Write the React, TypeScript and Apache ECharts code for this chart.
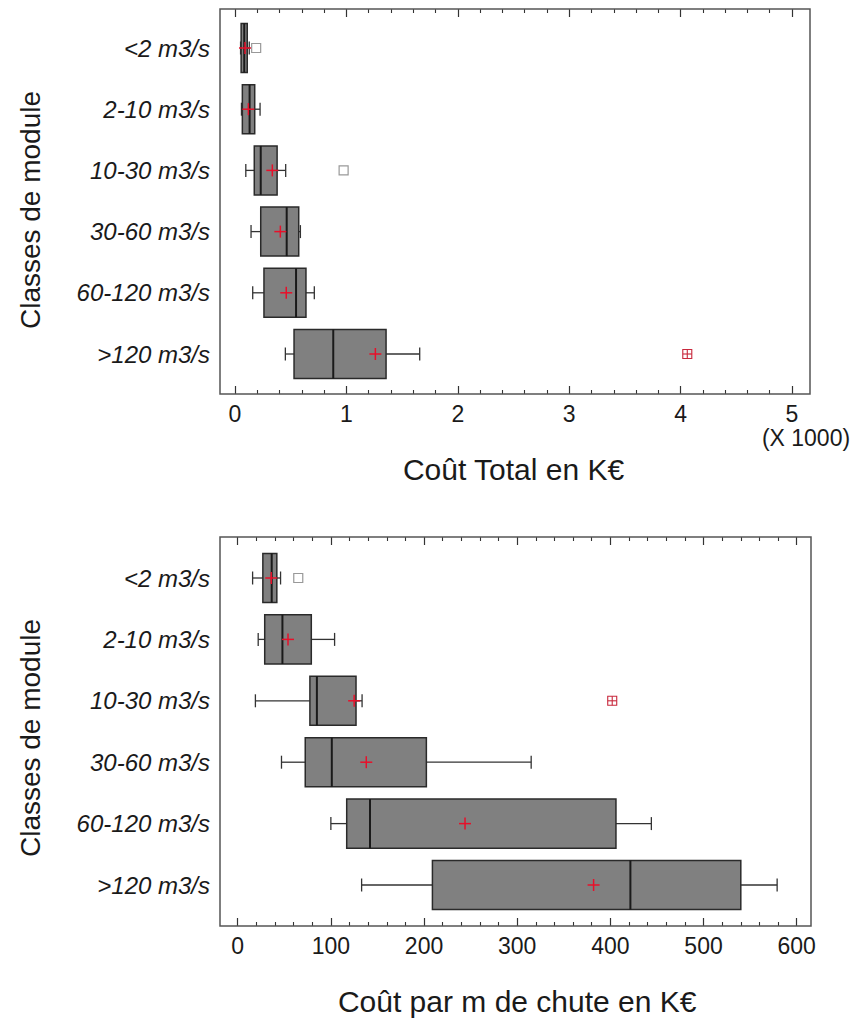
import React, { useEffect, useRef } from 'react';
import * as echarts from 'echarts';

const categories = ['<2 m3/s', '2-10 m3/s', '10-30 m3/s', '30-60 m3/s', '60-120 m3/s', '>120 m3/s'];

// Chart 1: Coût Total en K€ (x 1000)
const totalLow = [0.05, 0.058, 0.097, 0.144, 0.159, 0.452];
const totalQ1 = [0.055, 0.066, 0.173, 0.231, 0.26, 0.53];
const totalMedian = [0.083, 0.131, 0.231, 0.464, 0.548, 0.882];
const totalQ3 = [0.11, 0.177, 0.378, 0.572, 0.637, 1.356];
const totalHigh = [0.128, 0.225, 0.455, 0.587, 0.712, 1.658];
const totalMean = [0.09, 0.12, 0.335, 0.407, 0.46, 1.26];
const totalOutliers = [[0, 0.19], [2, 0.975]];
const totalFarOutliers = [[5, 4.06]];
const totalTicks = { min: 0, max: 5, interval: 1 };

// Chart 2: Coût par m de chute en K€
const chuteLow = [16, 22, 19, 47, 100, 133];
const chuteQ1 = [27, 29, 77.5, 72.5, 117, 209];
const chuteMedian = [36.5, 48, 85, 101, 142, 421.5];
const chuteQ3 = [42, 79, 127, 202.5, 406, 540];
const chuteHigh = [46, 104, 133.5, 315, 444, 579];
const chuteMean = [36, 54, 125, 138, 244, 382];
const chuteOutliers = [[0, 65]];
const chuteFarOutliers = [[2, 402]];
const chuteTicks = { min: 0, max: 600, interval: 100 };

const FONT = '"Liberation Sans", Arial, sans-serif';
const TXT = '#1a1a1a';

function boxData(lo: number[], q1: number[], md: number[], q3: number[], hi: number[]) {
  return categories.map((_, i) => [i, lo[i], q1[i], md[i], q3[i], hi[i]]);
}

const renderBox = (params: any, api: any) => {
  const c = api.value(0);
  const y = api.coord([0, c])[1];
  const band = api.size([0, 1])[1];
  const h = band * 0.8;
  const X = (v: number) => api.coord([v, c])[0];
  const lo = X(api.value(1)), q1 = X(api.value(2)), md = X(api.value(3)), q3 = X(api.value(4)), hi = X(api.value(5));
  const cap = 6.5;
  const ws = { stroke: '#333', lineWidth: 1.3 };
  return {
    type: 'group',
    children: [
      { type: 'line', shape: { x1: lo, y1: y, x2: q1, y2: y }, style: ws },
      { type: 'line', shape: { x1: q3, y1: y, x2: hi, y2: y }, style: ws },
      { type: 'line', shape: { x1: lo, y1: y - cap, x2: lo, y2: y + cap }, style: ws },
      { type: 'line', shape: { x1: hi, y1: y - cap, x2: hi, y2: y + cap }, style: ws },
      { type: 'rect', shape: { x: q1, y: y - h / 2, width: q3 - q1, height: h }, style: { fill: '#808080', stroke: '#2a2a2a', lineWidth: 1.5 } },
      { type: 'line', shape: { x1: md, y1: y - h / 2, x2: md, y2: y + h / 2 }, style: { stroke: '#1a1a1a', lineWidth: 2 } },
    ],
  };
};

const renderMean = (params: any, api: any) => {
  const p = api.coord([api.value(1), api.value(0)]);
  const a = 6;
  const st = { stroke: '#e8102a', lineWidth: 1.5 };
  return {
    type: 'group',
    children: [
      { type: 'line', shape: { x1: p[0] - a, y1: p[1], x2: p[0] + a, y2: p[1] }, style: st },
      { type: 'line', shape: { x1: p[0], y1: p[1] - a, x2: p[0], y2: p[1] + a }, style: st },
    ],
  };
};

const renderOutlier = (params: any, api: any) => {
  const p = api.coord([api.value(1), api.value(0)]);
  const s = 4.5;
  return { type: 'rect', shape: { x: p[0] - s, y: p[1] - s, width: 2 * s, height: 2 * s }, style: { fill: '#fff', stroke: '#999', lineWidth: 1.2 } };
};

const renderFar = (params: any, api: any) => {
  const p = api.coord([api.value(1), api.value(0)]);
  const s = 4.5;
  const st = { stroke: '#c8283c', lineWidth: 1.1 };
  return {
    type: 'group',
    children: [
      { type: 'rect', shape: { x: p[0] - s, y: p[1] - s, width: 2 * s, height: 2 * s }, style: { fill: '#fff', stroke: '#c8283c', lineWidth: 1.1 } },
      { type: 'line', shape: { x1: p[0] - s, y1: p[1], x2: p[0] + s, y2: p[1] }, style: st },
      { type: 'line', shape: { x1: p[0], y1: p[1] - s, x2: p[0], y2: p[1] + s }, style: st },
    ],
  };
};

function xAxisPair(gridIndex: number, ticks: any, name: string, offBottom: number, offTop: number) {
  const common = {
    type: 'value',
    gridIndex,
    min: ticks.min,
    max: ticks.max,
    interval: ticks.interval,
    splitLine: { show: false },
    axisLine: { show: false },
    axisTick: { show: true, inside: true, length: 8, lineStyle: { color: '#333', width: 1.2 } },
    minorTick: { show: true, splitNumber: 5, length: 4, lineStyle: { color: '#333', width: 1.1 } },
  };
  return [
    {
      ...common,
      position: 'bottom',
      offset: offBottom,
      axisLabel: { show: true, margin: 8, fontSize: 23, color: TXT, fontFamily: FONT },
      name,
      nameLocation: 'middle',
      nameGap: 60,
      nameTextStyle: { fontSize: 30, color: TXT, fontFamily: FONT },
    },
    {
      ...common,
      position: 'top',
      offset: offTop,
      axisLabel: { show: false },
    },
  ];
}

function yAxis(gridIndex: number, margin: number) {
  return {
    type: 'category',
    gridIndex,
    data: categories,
    inverse: true,
    axisLine: { show: false },
    axisTick: { show: false },
    splitLine: { show: false },
    axisLabel: { margin, fontSize: 24, fontStyle: 'italic', color: TXT, fontFamily: FONT },
  };
}

export default function App() {
  const ref = useRef<HTMLDivElement>(null);
  useEffect(() => {
    document.body.style.margin = '0';
    const chart = echarts.init(ref.current!, null, { renderer: 'svg' });
    const g1 = { left: 235, top: 17.4, width: 557, height: 367.2 };
    const g2 = { left: 237.7, top: 547.3, width: 559, height: 368.4 };
    chart.setOption({
      animation: false,
      backgroundColor: '#fff',
      grid: [g1, g2],
      xAxis: [
        ...xAxisPair(0, totalTicks, 'Coût Total en K€', 394 - (g1.top + g1.height), g1.top - 9),
        ...xAxisPair(1, chuteTicks, 'Coût par m de chute en K€', 926 - (g2.top + g2.height), g2.top - 537),
      ],
      yAxis: [yAxis(0, 25), yAxis(1, 27.7)],
      graphic: [
        { type: 'rect', shape: { x: 220, y: 9, width: 590, height: 385 }, style: { fill: 'none', stroke: '#555', lineWidth: 1.5 }, silent: true, z: 10 },
        { type: 'rect', shape: { x: 220, y: 537, width: 591, height: 389 }, style: { fill: 'none', stroke: '#555', lineWidth: 1.5 }, silent: true, z: 10 },
        { type: 'text', x: 806, y: 438, style: { text: '(X 1000)', fontSize: 23, fill: TXT, fontFamily: FONT, align: 'center', verticalAlign: 'middle' } },
        { type: 'text', x: 30, y: 210, rotation: Math.PI / 2, style: { text: 'Classes de module', fontSize: 28, fill: TXT, fontFamily: FONT, align: 'center', verticalAlign: 'middle' } },
        { type: 'text', x: 30, y: 738, rotation: Math.PI / 2, style: { text: 'Classes de module', fontSize: 28, fill: TXT, fontFamily: FONT, align: 'center', verticalAlign: 'middle' } },
      ],
      series: [
        { type: 'custom', xAxisIndex: 0, yAxisIndex: 0, renderItem: renderBox, encode: { x: [1, 2, 3, 4, 5], y: 0 }, data: boxData(totalLow, totalQ1, totalMedian, totalQ3, totalHigh) },
        { type: 'custom', xAxisIndex: 0, yAxisIndex: 0, renderItem: renderOutlier, encode: { x: 1, y: 0 }, data: totalOutliers },
        { type: 'custom', xAxisIndex: 0, yAxisIndex: 0, renderItem: renderFar, encode: { x: 1, y: 0 }, data: totalFarOutliers },
        { type: 'custom', xAxisIndex: 0, yAxisIndex: 0, renderItem: renderMean, encode: { x: 1, y: 0 }, data: categories.map((_, i) => [i, totalMean[i]]), z: 5 },
        { type: 'custom', xAxisIndex: 2, yAxisIndex: 1, renderItem: renderBox, encode: { x: [1, 2, 3, 4, 5], y: 0 }, data: boxData(chuteLow, chuteQ1, chuteMedian, chuteQ3, chuteHigh) },
        { type: 'custom', xAxisIndex: 2, yAxisIndex: 1, renderItem: renderOutlier, encode: { x: 1, y: 0 }, data: chuteOutliers },
        { type: 'custom', xAxisIndex: 2, yAxisIndex: 1, renderItem: renderFar, encode: { x: 1, y: 0 }, data: chuteFarOutliers },
        { type: 'custom', xAxisIndex: 2, yAxisIndex: 1, renderItem: renderMean, encode: { x: 1, y: 0 }, data: categories.map((_, i) => [i, chuteMean[i]]), z: 5 },
      ],
    });
    return () => chart.dispose();
  }, []);
  return <div ref={ref} style={{ width: 853, height: 1018 }} />;
}
